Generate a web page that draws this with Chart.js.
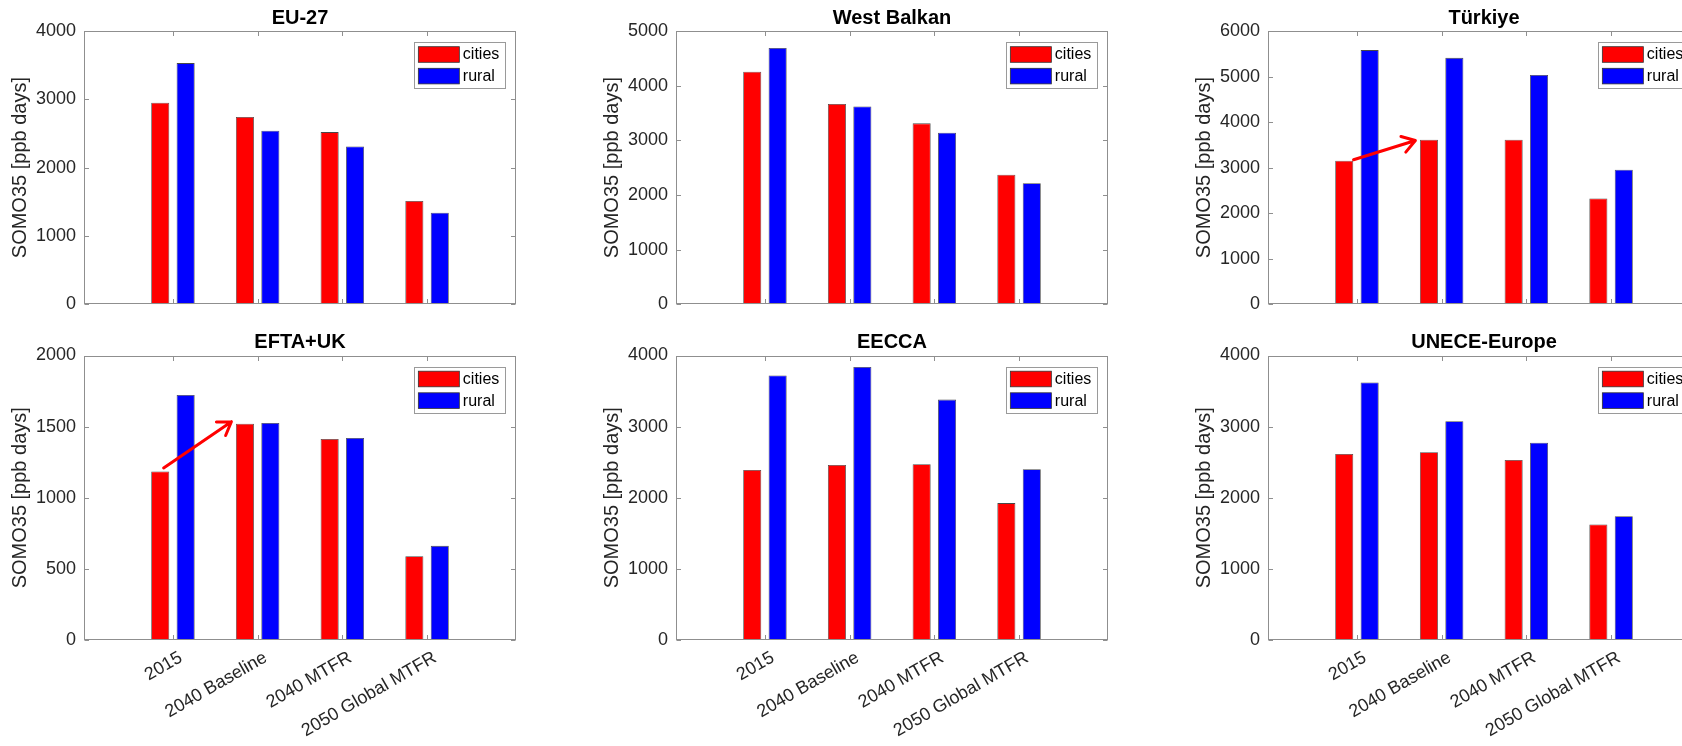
<!DOCTYPE html>
<html><head><meta charset="utf-8">
<script src="https://cdn.jsdelivr.net/npm/chart.js@4"></script>
<style>
html,body{margin:0;padding:0;background:#fff;overflow:hidden;width:1682px;height:746px;position:relative;}
canvas{position:absolute;}
</style></head><body>
<canvas id="c0" width="592" height="323" style="left:0px;top:0px"></canvas>
<canvas id="c1" width="592" height="323" style="left:592px;top:0px"></canvas>
<canvas id="c2" width="592" height="323" style="left:1184px;top:0px"></canvas>
<canvas id="c3" width="592" height="423" style="left:0px;top:323px"></canvas>
<canvas id="c4" width="592" height="423" style="left:592px;top:323px"></canvas>
<canvas id="c5" width="592" height="423" style="left:1184px;top:323px"></canvas>
<script>
// ---- data ----
const categories = ['2015', '2040 Baseline', '2040 MTFR', '2050 Global MTFR'];
const seriesNames = ['cities', 'rural'];
const regionNames = ['EU-27', 'West Balkan', 'Türkiye', 'EFTA+UK', 'EECCA', 'UNECE-Europe'];
const yTitle = 'SOMO35 [ppb days]';

const eu27Cities = [2950, 2740, 2520, 1510];
const eu27Rural = [3530, 2540, 2310, 1340];
const westBalkanCities = [4255, 3665, 3310, 2370];
const westBalkanRural = [4690, 3620, 3140, 2215];
const turkiyeCities = [3150, 3610, 3610, 2320];
const turkiyeRural = [5580, 5410, 5035, 2955];
const eftaUkCities = [1185, 1520, 1413, 589];
const eftaUkRural = [1723, 1526, 1420, 662];
const eeccaCities = [2390, 2460, 2470, 1925];
const eeccaRural = [3720, 3840, 3380, 2400];
const uneceCities = [2615, 2640, 2530, 1625];
const uneceRural = [3620, 3075, 2775, 1740];

const eu27Ticks = [0, 1000, 2000, 3000, 4000];
const westBalkanTicks = [0, 1000, 2000, 3000, 4000, 5000];
const turkiyeTicks = [0, 1000, 2000, 3000, 4000, 5000, 6000];
const eftaUkTicks = [0, 500, 1000, 1500, 2000];
const eeccaTicks = [0, 1000, 2000, 3000, 4000];
const uneceTicks = [0, 1000, 2000, 3000, 4000];

// arrows: [category index + offset, value]
const turkiyeArrow = [[0 - 0.04, 3172], [1 - 0.31, 3594]];
const eftaUkArrow = [[0 - 0.11, 1209], [1 - 0.31, 1535]];

const seriesColors = ['#ff0000', '#0000ff'];
const FONT = "'Liberation Sans', Arial, Helvetica, sans-serif";
const AXIS_COLOR = '#8f8f8f';
const TEXT_COLOR = '#262626';

// ---- plugins ----
const matlabAxes = {
  id: 'matlabAxes',
  afterDraw(chart) {
    const {ctx, chartArea: a} = chart;
    const xs = chart.scales.x, ys = chart.scales.y;
    const L = Math.round(a.left) + 0.5, R = Math.round(a.right) - 0.5;
    const T = Math.round(a.top) + 0.5, B = Math.round(a.bottom) - 0.5;
    ctx.save();
    ctx.strokeStyle = AXIS_COLOR;
    ctx.lineWidth = 1;
    ctx.strokeRect(L, T, R - L, B - T);
    const tl = 4.5;
    ctx.beginPath();
    xs.ticks.forEach(t => {
      const px = Math.round(xs.getPixelForValue(t.value)) + 0.5;
      ctx.moveTo(px, B); ctx.lineTo(px, B - tl);
      ctx.moveTo(px, T); ctx.lineTo(px, T + tl);
    });
    ys.ticks.forEach(t => {
      const py = Math.round(ys.getPixelForValue(t.value)) + 0.5;
      ctx.moveTo(L, py); ctx.lineTo(L + tl, py);
      ctx.moveTo(R, py); ctx.lineTo(R - tl, py);
    });
    ctx.stroke();
    ctx.restore();
  }
};

const insideLegend = {
  id: 'insideLegend',
  afterDraw(chart) {
    const {ctx, chartArea: a} = chart;
    const ds = chart.data.datasets;
    ctx.save();
    ctx.font = '16px ' + FONT;
    const tw = Math.max(...ds.map(d => ctx.measureText(d.label).width));
    const sw = 41, sh = 15.6, pad = 4;
    const w = pad + sw + 3.5 + tw + 6;
    const h = 46.3;
    const x0 = a.right - 10.7 - w, y0 = a.top + 11;
    ctx.fillStyle = '#fff';
    ctx.fillRect(x0, y0, w, h);
    ctx.strokeStyle = '#9a9a9a';
    ctx.lineWidth = 1;
    ctx.strokeRect(Math.round(x0) + 0.5, Math.round(y0) + 0.5, Math.round(w), Math.round(h));
    ds.forEach((d, i) => {
      const sy = y0 + 4.7 + i * 21.6;
      ctx.fillStyle = d.backgroundColor;
      ctx.fillRect(x0 + pad, sy, sw, sh);
      ctx.strokeStyle = '#333';
      ctx.lineWidth = 0.8;
      ctx.strokeRect(x0 + pad, sy, sw, sh);
      ctx.fillStyle = '#000';
      ctx.textBaseline = 'middle';
      ctx.textAlign = 'left';
      ctx.fillText(d.label, x0 + pad + sw + 3.5, sy + sh / 2 + 0.5);
    });
    ctx.restore();
  }
};

const arrowNote = {
  id: 'arrowNote',
  afterDatasetsDraw(chart, args, opts) {
    if (!opts || !opts.from) return;
    const xs = chart.scales.x, ys = chart.scales.y;
    const x1 = xs.getPixelForValue(opts.from[0] + 1), y1 = ys.getPixelForValue(opts.from[1]);
    const x2 = xs.getPixelForValue(opts.to[0] + 1), y2 = ys.getPixelForValue(opts.to[1]);
    const ang = Math.atan2(y2 - y1, x2 - x1);
    const hl = 15, spread = 33 * Math.PI / 180;
    const ctx = chart.ctx;
    ctx.save();
    ctx.strokeStyle = '#ff0000';
    ctx.lineWidth = 3;
    ctx.lineCap = 'round';
    ctx.lineJoin = 'round';
    ctx.beginPath();
    ctx.moveTo(x1, y1); ctx.lineTo(x2, y2);
    ctx.moveTo(x2 - hl * Math.cos(ang - spread), y2 - hl * Math.sin(ang - spread));
    ctx.lineTo(x2, y2);
    ctx.lineTo(x2 - hl * Math.cos(ang + spread), y2 - hl * Math.sin(ang + spread));
    ctx.stroke();
    ctx.restore();
  }
};

function makeChart(id, title, cities, rural, yTicks, bottomRow, arrow) {
  const datasets = [cities, rural].map((vals, s) => ({
    label: seriesNames[s],
    data: vals.map((v, i) => ({x: i + 1, y: v})),
    backgroundColor: seriesColors[s],
    borderColor: 'rgba(40,40,40,0.85)',
    borderWidth: 0.8,
    borderSkipped: false,
    categoryPercentage: 0.6,
    barPercentage: 0.71
  }));
  const topPad = bottomRow ? 7.5 : 6;
  return new Chart(document.getElementById(id), {
    type: 'bar',
    data: {datasets},
    plugins: [arrowNote, matlabAxes, insideLegend],
    options: {
      responsive: false,
      animation: false,
      devicePixelRatio: 1,
      layout: {padding: {left: 0, right: 76, top: topPad, bottom: 0}},
      plugins: {
        legend: {display: false},
        tooltip: {enabled: false},
        title: {
          display: true, text: title, fullSize: false, color: '#000',
          font: {family: FONT, size: 20, weight: 'bold', lineHeight: 1.2},
          padding: {top: 0, bottom: 1}
        },
        arrowNote: arrow ? {from: arrow[0], to: arrow[1]} : {}
      },
      scales: {
        x: {
          type: 'linear',
          min: -0.05, max: 5.05,
          offset: false,
          grid: {display: false, drawTicks: false, offset: false},
          border: {display: false},
          afterBuildTicks: sc => { sc.ticks = categories.map((c, i) => ({value: i + 1})); },
          afterFit: sc => { sc.height = bottomRow ? 106 : 7; },
          ticks: {
            display: bottomRow,
            autoSkip: false,
            minRotation: 30, maxRotation: 30,
            padding: 7,
            labelOffset: 8,
            color: TEXT_COLOR,
            font: {family: FONT, size: 18},
            callback: v => categories[Math.round(v) - 1] ?? ''
          }
        },
        y: {
          type: 'linear',
          min: yTicks[0], max: yTicks[yTicks.length - 1],
          grid: {display: false, drawTicks: false},
          border: {display: false},
          afterBuildTicks: sc => { sc.ticks = yTicks.map(v => ({value: v})); },
          afterFit: sc => { sc.width = 84; },
          ticks: {
            padding: 8,
            color: TEXT_COLOR,
            font: {family: FONT, size: 18},
            callback: v => String(v)
          },
          title: {
            display: true, text: yTitle, color: TEXT_COLOR,
            font: {family: FONT, size: 20, lineHeight: 1.2},
            padding: {top: 8, bottom: 0}
          }
        }
      }
    }
  });
}

makeChart('c0', regionNames[0], eu27Cities, eu27Rural, eu27Ticks, false, null);
makeChart('c1', regionNames[1], westBalkanCities, westBalkanRural, westBalkanTicks, false, null);
makeChart('c2', regionNames[2], turkiyeCities, turkiyeRural, turkiyeTicks, false, turkiyeArrow);
makeChart('c3', regionNames[3], eftaUkCities, eftaUkRural, eftaUkTicks, true, eftaUkArrow);
makeChart('c4', regionNames[4], eeccaCities, eeccaRural, eeccaTicks, true, null);
makeChart('c5', regionNames[5], uneceCities, uneceRural, uneceTicks, true, null);
</script>
</body></html>
